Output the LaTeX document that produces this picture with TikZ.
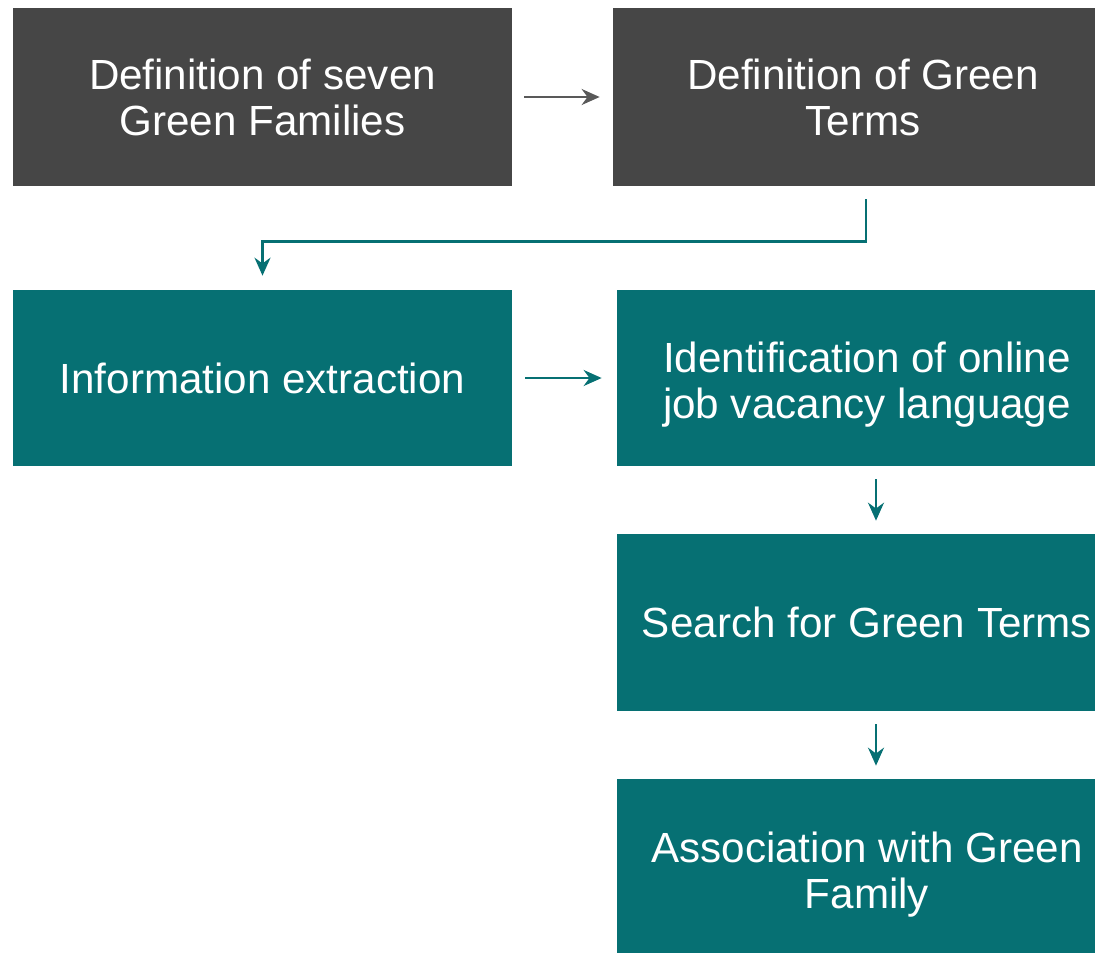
\documentclass[tikz,border=0pt]{standalone}
\usepackage{fontspec}
\setmainfont{Liberation Sans}
\usepackage{tikz}
\usepackage{xcolor}
\usetikzlibrary{arrows.meta}
\definecolor{flowGrey}{RGB}{70, 70, 70}
\definecolor{flowArrowGrey}{RGB}{89, 89, 89}
\definecolor{flowTeal}{RGB}{6, 112, 115}

\tikzset{
  greybox/.style={fill=flowGrey, text=white, align=center, inner sep=0pt,
    minimum width=10cm, minimum height=3.56cm, font=\fontsize{24}{26.2}\selectfont},
  tealbox/.style={greybox, fill=flowTeal},
  flowarrow/.style={-{Stealth[length=0.36cm, width=0.32cm]}, line width=1.3pt, flowTeal,
    shorten <=0.26cm, shorten >=0.26cm}
}

\begin{document}
\begin{tikzpicture}
                \useasboundingbox (0,0) rectangle (21.9,-19.04);
                \node[greybox, minimum width=9.98cm] (defFamilies) at (5.25,-1.94) {Definition of seven\\Green Families};
                \node[greybox] (defTerms) at (17.26,-1.94) {Definition of Green\\Terms};
                \node[tealbox, minimum width=9.98cm, minimum height=3.52cm] (infoExtract) at (5.25,-7.56) {Information extraction};
                \node[tealbox, minimum height=3.52cm] (jobLanguage) at (17.34,-7.56) {\rule{0pt}{0.88cm}Identification of online\\job vacancy language};
                \node[tealbox, minimum height=3.54cm] (termSearch) at (17.34,-12.45) {Search for Green Terms};
                \node[tealbox, minimum height=3.54cm] (familyAssoc) at (17.34,-17.35) {\rule{0pt}{0.88cm}Association with Green\\Family};
                \draw[flowarrow, flowArrowGrey, shorten <=0.24cm] (defFamilies) -- (defTerms);
                \draw[flowarrow, shorten >=0.28cm] ([xshift=0.06cm]defTerms.south) -- ++(0,-1.1) -| (infoExtract.north);
                \draw[flowarrow, shorten >=0.3cm] (infoExtract) -- (jobLanguage);
                \draw[flowarrow] ([xshift=0.18cm]jobLanguage.south) -- ([xshift=0.18cm]termSearch.north);
                \draw[flowarrow] ([xshift=0.18cm]termSearch.south) -- ([xshift=0.18cm]familyAssoc.north);
            \end{tikzpicture}
\end{document}
